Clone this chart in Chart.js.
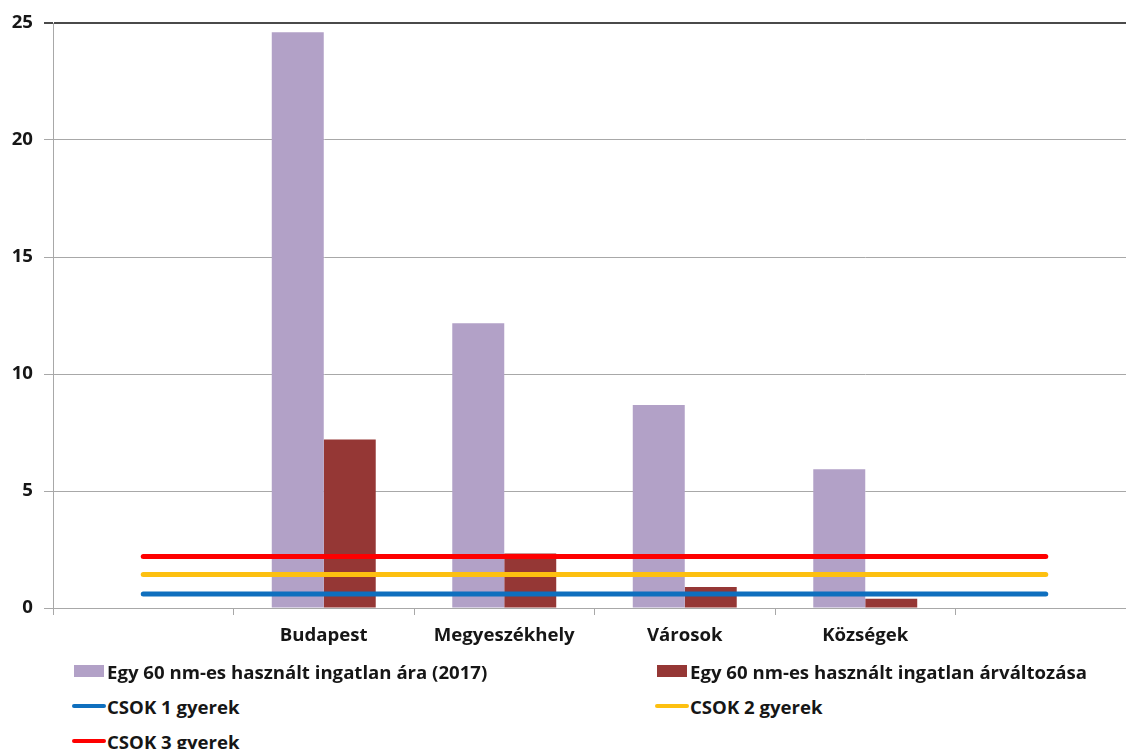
<!DOCTYPE html>
<html>
<head>
<meta charset="utf-8">
<script src="https://cdn.jsdelivr.net/npm/chart.js@4.4.1/dist/chart.umd.min.js"></script>
<style>
    html, body { margin: 0; padding: 0; background: #fff; width: 1126px; height: 749px; overflow: hidden; }
    #wrap { position: absolute; left: 0; top: 0; width: 1150px; height: 660px; }
    .item { position: absolute; font-family: "Open Sans", sans-serif; font-weight: 700; font-size: 18.6px; color: #161616; white-space: nowrap; line-height: 20px; }
    .mark { position: absolute; }
</style>
</head>
<body>
<div id="wrap"><canvas id="chart" width="1150" height="660"></canvas></div>
<div id="legend"></div>
<script>
// categories (first and last are empty slots, like in the original sheet)
var categories = ['', 'Budapest', 'Megyeszékhely', 'Városok', 'Községek', ''];

// millió Ft
var priceLabel = 'Egy 60 nm-es használt ingatlan ára (2017)';
var priceValues = [null, 24.6, 12.17, 8.67, 5.93, null];

var changeLabel = 'Egy 60 nm-es használt ingatlan árváltozása';
var changeValues = [null, 7.2, 2.33, 0.9, 0.4, null];

var csok1Label = 'CSOK 1 gyerek';
var csok1Values = [0.6, 0.6, 0.6, 0.6, 0.6, 0.6];
var csok2Label = 'CSOK 2 gyerek';
var csok2Values = [1.43, 1.43, 1.43, 1.43, 1.43, 1.43];
var csok3Label = 'CSOK 3 gyerek';
var csok3Values = [2.2, 2.2, 2.2, 2.2, 2.2, 2.2];

var yTicks = [0, 5, 10, 15, 20, 25];

var purple = '#b2a1c7';
var brown = '#953735';
var blue = '#0f6fbe';
var yellow = '#fdc010';
var red = '#fe0000';
var gridColor = '#a8a8a8';
var textColor = '#161616';

function lineSet(label, values, color) {
    return {
        type: 'line',
        label: label,
        data: values,
        borderColor: color,
        backgroundColor: color,
        borderWidth: 5,
        borderCapStyle: 'round',
        pointRadius: 0,
        fill: false,
        order: 0
    };
}

function drawChart() {
    var font = { family: 'Open Sans', weight: '700', size: 18.6 };
    var ctx = document.getElementById('chart').getContext('2d');

    new Chart(ctx, {
        type: 'bar',
        data: {
            labels: categories,
            datasets: [
                { label: priceLabel, data: priceValues, backgroundColor: purple, categoryPercentage: 0.576, barPercentage: 1, order: 1 },
                { label: changeLabel, data: changeValues, backgroundColor: brown, categoryPercentage: 0.576, barPercentage: 1, order: 1 },
                lineSet(csok1Label, csok1Values, blue),
                lineSet(csok2Label, csok2Values, yellow),
                lineSet(csok3Label, csok3Values, red)
            ]
        },
        options: {
            responsive: false,
            animation: false,
            layout: { padding: { top: 23, right: 14, left: 0, bottom: 0 } },
            plugins: {
                legend: { display: false },
                tooltip: { enabled: false }
            },
            scales: {
                x: {
                    offset: true,
                    grid: { drawOnChartArea: false, tickLength: 7, color: gridColor, offset: true },
                    border: { color: gridColor },
                    ticks: { font: font, color: textColor, padding: 10, maxRotation: 0, autoSkip: false },
                    afterFit: function (s) { s.height = 52; }
                },
                y: {
                    min: 0,
                    max: 25,
                    afterBuildTicks: function (s) { s.ticks = yTicks.map(function (v) { return { value: v }; }); },
                    grid: {
                        tickLength: 9,
                        color: function (c) { return c.tick && c.tick.value === 25 ? '#4a4a4a' : gridColor; },
                        lineWidth: function (c) { return c.tick && c.tick.value === 25 ? 2 : 1; }
                    },
                    border: { color: gridColor },
                    ticks: { font: font, color: textColor, padding: 11 },
                    afterFit: function (s) { s.width = 53; }
                }
            }
        }
    });
}

function drawLegend() {
    // x, y = marker left / row centre, tx = text left
    var items = [
        { label: priceLabel, color: purple, kind: 'box', x: 74, y: 671, tx: 107 },
        { label: changeLabel, color: brown, kind: 'box', x: 657, y: 671, tx: 690 },
        { label: csok1Label, color: blue, kind: 'line', x: 72, y: 706, tx: 107 },
        { label: csok2Label, color: yellow, kind: 'line', x: 655, y: 706, tx: 690 },
        { label: csok3Label, color: red, kind: 'line', x: 72, y: 741, tx: 107 }
    ];
    var legend = document.getElementById('legend');
    items.forEach(function (it) {
        var m = document.createElement('div');
        m.className = 'mark';
        m.style.background = it.color;
        if (it.kind === 'box') {
            m.style.left = it.x + 'px';
            m.style.top = (it.y - 6) + 'px';
            m.style.width = '30px';
            m.style.height = '12px';
        } else {
            m.style.left = it.x + 'px';
            m.style.top = (it.y - 2) + 'px';
            m.style.width = '34px';
            m.style.height = '4px';
            m.style.borderRadius = '2px';
        }
        legend.appendChild(m);

        var t = document.createElement('div');
        t.className = 'item';
        t.style.left = it.tx + 'px';
        t.style.top = (it.y - 9) + 'px';
        t.textContent = it.label;
        legend.appendChild(t);
    });
}

document.fonts.load('700 19px "Open Sans"').then(function () {
    drawLegend();
    drawChart();
}, function () {
    drawLegend();
    drawChart();
});
</script>
</body>
</html>
